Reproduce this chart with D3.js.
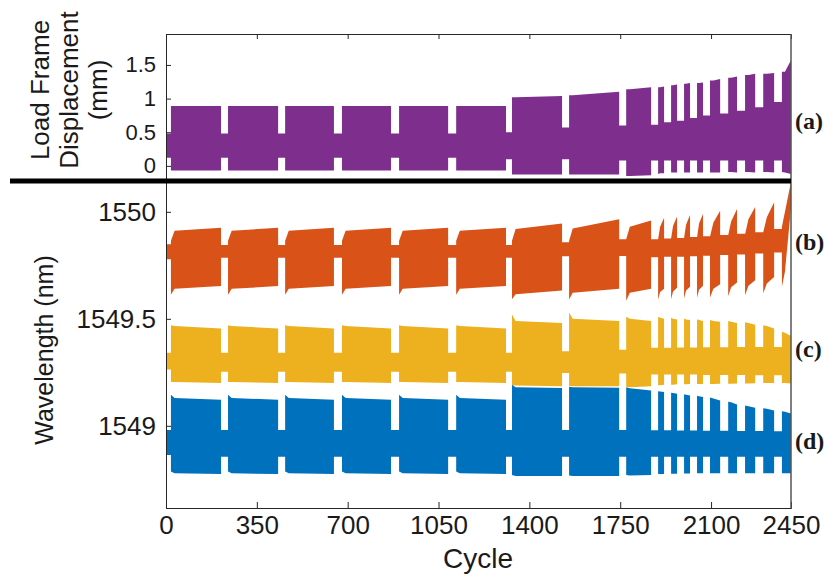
<!DOCTYPE html>
<meta charset="utf-8">
<head>
  <title>Load frame displacement and FBG wavelength</title>
</head>
<style>
  body { margin: 0; background: #fff; }
  text { font-family: "Liberation Sans", Arial, sans-serif; fill: #1a1a1a; }
  .tag { font-family: "Liberation Serif", "Times New Roman", serif; font-weight: bold; }
</style>

<script src="https://d3js.org/d3.v7.min.js"></script>

<div id="my_dataviz"></div>

<script>
  // cycle ticks (the last one sits on the right edge and reads 2450)
  var cycleTicks = [0, 350, 700, 1050, 1400, 1750, 2100];
  var cycleMax = 2408;
  var cycleMaxLabel = "2450";
  var dispTicks = [0, 0.5, 1, 1.5];
  var waveTicks = [1549, 1549.5, 1550];

  // loading blocks (cycle where each block starts / ends)
  var blockStart = [19, 239, 459, 678, 898, 1118, 1333, 1553, 1773, 1896, 1946, 1996, 2046, 2096, 2166, 2231, 2301, 2373];
  var blockEnd   = [212, 432, 647, 867, 1087, 1310, 1526, 1746, 1869, 1919, 1969, 2019, 2069, 2135, 2200, 2270, 2343, 2408];

  // envelope of each block: [top at start, top after recovery, top at end, bottom at start, bottom after recovery, bottom at end]
  // hold band before each block: [top, bottom]
  var dispBlocks = [
    [0.89, 0.89, 0.89, -0.07, -0.07, -0.07],
    [0.89, 0.89, 0.89, -0.07, -0.07, -0.07],
    [0.89, 0.89, 0.89, -0.07, -0.07, -0.07],
    [0.89, 0.89, 0.89, -0.07, -0.07, -0.07],
    [0.89, 0.89, 0.89, -0.07, -0.07, -0.07],
    [0.89, 0.89, 0.89, -0.07, -0.07, -0.07],
    [1.02, 1.02, 1.04, -0.13, -0.13, -0.13],
    [1.05, 1.05, 1.10, -0.13, -0.13, -0.13],
    [1.14, 1.14, 1.17, -0.15, -0.15, -0.14],
    [1.17, 1.17, 1.18, -0.12, -0.11, -0.11],
    [1.20, 1.20, 1.21, -0.10, -0.10, -0.10],
    [1.22, 1.22, 1.23, -0.10, -0.10, -0.10],
    [1.23, 1.23, 1.24, -0.10, -0.10, -0.10],
    [1.27, 1.27, 1.29, -0.10, -0.10, -0.10],
    [1.31, 1.31, 1.33, -0.09, -0.09, -0.10],
    [1.35, 1.35, 1.37, -0.09, -0.09, -0.10],
    [1.37, 1.37, 1.38, -0.09, -0.09, -0.10],
    [1.40, 1.40, 1.57, -0.09, -0.10, -0.12]
  ];
  var dispHold = [
    [0.48, 0.12], [0.48, 0.12], [0.48, 0.12], [0.48, 0.12], [0.48, 0.12], [0.48, 0.12],
    [0.50, 0.10], [0.57, 0.10], [0.60, 0.08], [0.61, 0.08], [0.65, 0.08], [0.67, 0.08],
    [0.71, 0.08], [0.75, 0.08], [0.78, 0.08], [0.82, 0.08], [0.87, 0.08], [0.95, 0.08]
  ];

  var waveBBlocks = [
    [1549.865, 1549.912, 1549.925, 1549.612, 1549.640, 1549.653],
    [1549.865, 1549.912, 1549.925, 1549.612, 1549.640, 1549.653],
    [1549.865, 1549.912, 1549.925, 1549.612, 1549.640, 1549.653],
    [1549.865, 1549.912, 1549.925, 1549.612, 1549.640, 1549.653],
    [1549.865, 1549.912, 1549.925, 1549.612, 1549.640, 1549.653],
    [1549.865, 1549.912, 1549.925, 1549.612, 1549.640, 1549.653],
    [1549.865, 1549.920, 1549.945, 1549.592, 1549.615, 1549.632],
    [1549.865, 1549.922, 1549.965, 1549.590, 1549.622, 1549.640],
    [1549.872, 1549.930, 1549.960, 1549.585, 1549.622, 1549.640],
    [1549.872, 1549.930, 1549.972, 1549.590, 1549.625, 1549.640],
    [1549.875, 1549.935, 1549.978, 1549.592, 1549.628, 1549.645],
    [1549.878, 1549.940, 1549.985, 1549.595, 1549.632, 1549.650],
    [1549.880, 1549.945, 1549.990, 1549.598, 1549.636, 1549.655],
    [1549.885, 1549.950, 1550.005, 1549.600, 1549.640, 1549.662],
    [1549.890, 1549.955, 1550.013, 1549.605, 1549.648, 1549.670],
    [1549.895, 1549.965, 1550.022, 1549.610, 1549.655, 1549.680],
    [1549.905, 1549.975, 1550.045, 1549.620, 1549.665, 1549.695],
    [1549.930, 1550.000, 1550.140, 1549.650, 1549.720, 1550.020]
  ];
  var waveBHold = [
    [1549.848, 1549.778], [1549.845, 1549.785], [1549.845, 1549.785], [1549.845, 1549.785],
    [1549.845, 1549.785], [1549.845, 1549.785], [1549.845, 1549.785], [1549.858, 1549.792],
    [1549.872, 1549.794], [1549.872, 1549.788], [1549.875, 1549.790], [1549.878, 1549.790],
    [1549.882, 1549.792], [1549.886, 1549.795], [1549.892, 1549.798], [1549.898, 1549.800],
    [1549.905, 1549.805], [1549.920, 1549.810]
  ];

  var waveCBlocks = [
    [1549.470, 1549.466, 1549.455, 1549.205, 1549.205, 1549.200],
    [1549.470, 1549.466, 1549.455, 1549.205, 1549.205, 1549.200],
    [1549.470, 1549.466, 1549.455, 1549.205, 1549.205, 1549.200],
    [1549.470, 1549.466, 1549.455, 1549.205, 1549.205, 1549.200],
    [1549.470, 1549.466, 1549.455, 1549.205, 1549.205, 1549.200],
    [1549.470, 1549.466, 1549.455, 1549.205, 1549.205, 1549.200],
    [1549.520, 1549.490, 1549.480, 1549.190, 1549.188, 1549.185],
    [1549.530, 1549.500, 1549.490, 1549.186, 1549.185, 1549.185],
    [1549.510, 1549.500, 1549.490, 1549.182, 1549.180, 1549.185],
    [1549.510, 1549.505, 1549.500, 1549.190, 1549.190, 1549.192],
    [1549.505, 1549.500, 1549.497, 1549.192, 1549.192, 1549.194],
    [1549.502, 1549.497, 1549.494, 1549.194, 1549.194, 1549.195],
    [1549.498, 1549.494, 1549.490, 1549.195, 1549.195, 1549.196],
    [1549.495, 1549.490, 1549.486, 1549.196, 1549.196, 1549.197],
    [1549.490, 1549.486, 1549.480, 1549.197, 1549.197, 1549.198],
    [1549.484, 1549.480, 1549.472, 1549.198, 1549.198, 1549.199],
    [1549.470, 1549.466, 1549.455, 1549.200, 1549.200, 1549.200],
    [1549.440, 1549.435, 1549.420, 1549.200, 1549.200, 1549.198]
  ];
  var waveCHold = [
    [1549.341, 1549.263], [1549.342, 1549.253], [1549.342, 1549.253], [1549.342, 1549.253],
    [1549.342, 1549.253], [1549.342, 1549.253], [1549.342, 1549.253], [1549.348, 1549.247],
    [1549.355, 1549.245], [1549.365, 1549.240], [1549.365, 1549.240], [1549.366, 1549.240],
    [1549.366, 1549.240], [1549.367, 1549.238], [1549.367, 1549.238], [1549.368, 1549.238],
    [1549.368, 1549.236], [1549.368, 1549.236]
  ];

  var waveDBlocks = [
    [1549.145, 1549.130, 1549.122, 1548.786, 1548.778, 1548.775],
    [1549.145, 1549.130, 1549.122, 1548.786, 1548.778, 1548.775],
    [1549.145, 1549.130, 1549.122, 1548.786, 1548.778, 1548.775],
    [1549.145, 1549.130, 1549.122, 1548.786, 1548.778, 1548.775],
    [1549.145, 1549.130, 1549.122, 1548.786, 1548.778, 1548.775],
    [1549.145, 1549.130, 1549.122, 1548.786, 1548.778, 1548.775],
    [1549.192, 1549.180, 1549.177, 1548.770, 1548.765, 1548.765],
    [1549.182, 1549.180, 1549.178, 1548.768, 1548.765, 1548.765],
    [1549.180, 1549.175, 1549.165, 1548.770, 1548.768, 1548.770],
    [1549.162, 1549.160, 1549.158, 1548.775, 1548.775, 1548.775],
    [1549.155, 1549.153, 1549.150, 1548.776, 1548.776, 1548.776],
    [1549.147, 1549.145, 1549.142, 1548.777, 1548.777, 1548.777],
    [1549.140, 1549.138, 1549.135, 1548.778, 1548.778, 1548.778],
    [1549.132, 1549.128, 1549.118, 1548.778, 1548.778, 1548.778],
    [1549.112, 1549.110, 1549.100, 1548.778, 1548.778, 1548.778],
    [1549.095, 1549.092, 1549.085, 1548.778, 1548.778, 1548.778],
    [1549.082, 1549.080, 1549.072, 1548.778, 1548.778, 1548.778],
    [1549.068, 1549.066, 1549.058, 1548.778, 1548.778, 1548.778]
  ];
  var waveDHold = [
    [1548.981, 1548.864], [1548.981, 1548.856], [1548.981, 1548.856], [1548.981, 1548.856],
    [1548.981, 1548.856], [1548.981, 1548.856], [1548.981, 1548.856], [1548.980, 1548.856],
    [1548.980, 1548.855], [1548.979, 1548.855], [1548.979, 1548.855], [1548.978, 1548.855],
    [1548.978, 1548.855], [1548.977, 1548.855], [1548.977, 1548.855], [1548.976, 1548.855],
    [1548.976, 1548.855], [1548.975, 1548.855]
  ];

  var width = 829, height = 579;
  var svg = d3.select("#my_dataviz").append("svg")
    .attr("width", width)
    .attr("height", height);

  var x = d3.scaleLinear().domain([0, cycleMax]).range([166, 791]);
  var yTop = d3.scaleLinear().domain([-0.225, 1.96]).range([181, 34]);
  var yBot = d3.scaleLinear().domain([1548.616, 1550.144]).range([508, 181]);

  // turn blocks + hold bands into one envelope, hold band then block
  function envelope(blocks, hold) {
    var pts = [];
    blockStart.forEach(function(s, i) {
      var g0 = i === 0 ? 0 : blockEnd[i - 1];
      pts.push({ c: g0, hi: hold[i][0], lo: hold[i][1] });
      pts.push({ c: s, hi: hold[i][0], lo: hold[i][1] });
      var b = blocks[i];
      var r = Math.min(14, (blockEnd[i] - s) / 3);
      pts.push({ c: s, hi: b[0], lo: b[3] });
      pts.push({ c: s + r, hi: b[1], lo: b[4] });
      pts.push({ c: blockEnd[i], hi: b[2], lo: b[5] });
    });
    return pts;
  }

  function band(y) {
    return d3.area()
      .x(function(d) { return x(d.c); })
      .y0(function(d) { return y(d.lo); })
      .y1(function(d) { return y(d.hi); });
  }

  // bands
  svg.append("path").datum(envelope(dispBlocks, dispHold))
    .attr("d", band(yTop)).attr("fill", "#7E2F8E");
  svg.append("path").datum(envelope(waveBBlocks, waveBHold))
    .attr("d", band(yBot)).attr("fill", "#D95319");
  svg.append("path").datum(envelope(waveCBlocks, waveCHold))
    .attr("d", band(yBot)).attr("fill", "#EDB120");
  svg.append("path").datum(envelope(waveDBlocks, waveDHold))
    .attr("d", band(yBot)).attr("fill", "#0072BD");

  // top panel axes
  var gl = svg.append("g")
    .attr("transform", "translate(166,0)")
    .call(d3.axisLeft(yTop).tickValues(dispTicks).tickSize(-5).tickPadding(10)
      .tickFormat(function(d) { return d3.format("")(d); }));
  gl.selectAll("text").style("font-size", "22px");
  svg.append("g")
    .attr("transform", "translate(0,34)")
    .call(d3.axisTop(x).tickValues(cycleTicks).tickSize(-5).tickFormat(""));

  // bottom panel axes
  var gw = svg.append("g")
    .attr("transform", "translate(166,0)")
    .call(d3.axisLeft(yBot).tickValues(waveTicks).tickSize(-5).tickPadding(10)
      .tickFormat(function(d) { return d3.format("")(d); }));
  gw.selectAll("text").style("font-size", "26px");

  var gx = svg.append("g")
    .attr("transform", "translate(0,508)")
    .call(d3.axisBottom(x).tickValues(cycleTicks.concat([cycleMax])).tickSize(-6).tickPadding(8)
      .tickFormat(function(d) { return d === cycleMax ? cycleMaxLabel : d; }));
  gx.selectAll("text").style("font-size", "26px");

  svg.selectAll(".domain").attr("stroke", "#262626");
  svg.selectAll(".tick line").attr("stroke", "#262626");
  svg.selectAll(".tick text").attr("fill", "#1a1a1a").style("font-family", "'Liberation Sans', Arial, sans-serif");

  // right border of both panels
  svg.append("line")
    .attr("x1", 791).attr("x2", 791).attr("y1", 34).attr("y2", 508)
    .attr("stroke", "#555").attr("stroke-width", 1.5);

  // thick divider
  svg.append("line")
    .attr("x1", 10).attr("x2", 791).attr("y1", 181).attr("y2", 181)
    .attr("stroke", "#000").attr("stroke-width", 5);

  // axis titles
  var titleTop = ["Load Frame", "Displacement", "(mm)"];
  var titleX = [49, 78, 107];
  titleTop.forEach(function(t, i) {
    svg.append("text")
      .attr("transform", "translate(" + titleX[i] + ",90) rotate(-90)")
      .style("text-anchor", "middle")
      .style("font-size", "26px")
      .text(t);
  });

  svg.append("text")
    .attr("transform", "translate(53,350) rotate(-90)")
    .style("text-anchor", "middle")
    .style("font-size", "25px")
    .text("Wavelength (nm)");

  svg.append("text")
    .attr("x", 478).attr("y", 568)
    .style("text-anchor", "middle")
    .style("font-size", "28px")
    .text("Cycle");

  // panel tags
  var tags = ["(a)", "(b)", "(c)", "(d)"];
  var tagY = [129, 250, 357, 449];
  tags.forEach(function(t, i) {
    svg.append("text")
      .attr("class", "tag")
      .attr("x", 795).attr("y", tagY[i])
      .style("font-size", "24px")
      .text(t);
  });
</script>
